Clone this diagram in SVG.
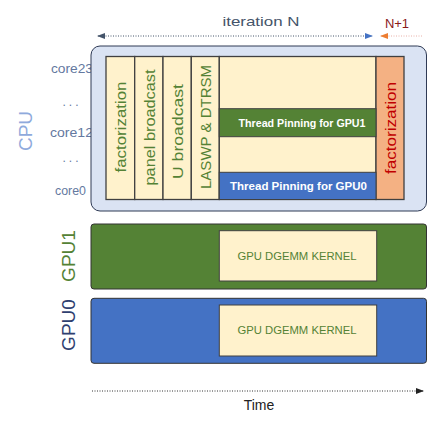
<svg xmlns="http://www.w3.org/2000/svg" width="440" height="428" viewBox="0 0 440 428">
<style>
.lab{font-family:"Liberation Sans",Arial,sans-serif}
.core{font-family:"Liberation Sans",Arial,sans-serif;font-size:12px;fill:#6479a0}
.col{font-family:"Liberation Sans",Arial,sans-serif;font-size:15px;fill:#548235;text-anchor:middle;dominant-baseline:central}
.pin{font-family:"Liberation Sans",Arial,sans-serif;font-size:11.5px;font-weight:bold;fill:#ffffff;text-anchor:middle;dominant-baseline:central}
.kern{font-family:"Liberation Sans",Arial,sans-serif;font-size:11px;fill:#548235;text-anchor:middle;dominant-baseline:central}
.big{font-family:"Liberation Sans",Arial,sans-serif;font-size:19px;text-anchor:middle;dominant-baseline:central}
.cell{fill:#fff2cc;stroke:#404040;stroke-width:1.3}
.dot{fill:none;stroke-width:1;stroke-dasharray:1 1.5}
</style>
<defs>
<marker id="ah" markerWidth="8" markerHeight="6" refX="7" refY="3" orient="auto-start-reverse" markerUnits="userSpaceOnUse">
<path d="M0,0 L8,3 L0,6 Z" fill="#44546a"/>
</marker>
<marker id="ahb" markerWidth="8" markerHeight="6" refX="7" refY="3" orient="auto" markerUnits="userSpaceOnUse">
<path d="M0,0 L8,3 L0,6 Z" fill="#4472c4"/>
</marker>
<marker id="aho" markerWidth="8" markerHeight="6" refX="7" refY="3" orient="auto-start-reverse" markerUnits="userSpaceOnUse">
<path d="M0,0 L8,3 L0,6 Z" fill="#ed7d31"/>
</marker>
<marker id="ahk" markerWidth="8" markerHeight="6" refX="7" refY="3" orient="auto" markerUnits="userSpaceOnUse">
<path d="M0,0 L8,3 L0,6 Z" fill="#222"/>
</marker>
</defs>

<g id="labels">
<text class="lab" x="261" y="26" font-size="13" fill="#44546a" text-anchor="middle" textLength="77" lengthAdjust="spacingAndGlyphs">iteration N</text>
<text class="lab" x="397" y="28" font-size="13" fill="#8b1a1a" text-anchor="middle">N+1</text>
<text class="big" transform="translate(25,131) rotate(-90)" fill="#8faadc">CPU</text>
<text class="big" transform="translate(68,256) rotate(-90)" fill="#548235">GPU1</text>
<text class="big" transform="translate(68,325) rotate(-90)" fill="#2f4070">GPU0</text>
<text class="core" x="93" y="72.5" text-anchor="end" textLength="42" lengthAdjust="spacingAndGlyphs">core23</text>
<text class="core" x="72" y="106" text-anchor="middle" letter-spacing="3">...</text>
<text class="core" x="93" y="137" text-anchor="end" textLength="43" lengthAdjust="spacingAndGlyphs">core12</text>
<text class="core" x="72" y="162" text-anchor="middle" letter-spacing="3">...</text>
<text class="core" x="86" y="195" text-anchor="end" textLength="31" lengthAdjust="spacingAndGlyphs">core0</text>
<text class="lab" x="259" y="410" font-size="14" fill="#222" text-anchor="middle">Time</text>
</g>

<g id="cpu">
<rect x="91" y="46" width="335.5" height="165" rx="9" fill="#dae3f3" stroke="#2e3a55" stroke-width="1"/>
<rect class="cell" x="106" y="56.5" width="28.7" height="143"/>
<rect class="cell" x="134.7" y="56.5" width="28.3" height="143"/>
<rect class="cell" x="163" y="56.5" width="28.3" height="143"/>
<rect class="cell" x="191.3" y="56.5" width="28" height="143"/>
<rect class="cell" x="219.3" y="56.5" width="156.7" height="143"/>
<rect x="376" y="56.5" width="28" height="143" fill="#f4b183" stroke="#404040" stroke-width="1.3"/>
<text class="col" transform="translate(120,127) rotate(-90)" textLength="91" lengthAdjust="spacingAndGlyphs">factorization</text>
<text class="col" transform="translate(149,127.5) rotate(-90)" textLength="116" lengthAdjust="spacingAndGlyphs">panel broadcast</text>
<text class="col" transform="translate(177,131.5) rotate(-90)" textLength="95" lengthAdjust="spacingAndGlyphs">U broadcast</text>
<text class="col" transform="translate(205,127) rotate(-90)" textLength="124" lengthAdjust="spacingAndGlyphs">LASWP &amp; DTRSM</text>
<text class="col" transform="translate(390,128) rotate(-90)" style="fill:#c00000" textLength="92" lengthAdjust="spacingAndGlyphs">factorization</text>
</g>

<g id="pin1">
<rect x="219.3" y="108.7" width="156.7" height="28" fill="#548235" stroke="#404040" stroke-width="1"/>
<text class="pin" x="302" y="122.7" textLength="127" lengthAdjust="spacingAndGlyphs">Thread Pinning for GPU1</text>
</g>
<g id="pin0">
<rect x="219.3" y="172.3" width="156.7" height="27.2" fill="#4472c4" stroke="#404040" stroke-width="1"/>
<text class="pin" x="298.5" y="186" textLength="137" lengthAdjust="spacingAndGlyphs">Thread Pinning for GPU0</text>
</g>

<g id="gpu1">
<rect x="91" y="224" width="335.5" height="65" rx="3" fill="#548235" stroke="#333" stroke-width="1"/>
<rect x="219.3" y="230.7" width="157.4" height="50.3" fill="#fff2cc" stroke="#404040" stroke-width="1"/>
<text class="kern" x="297" y="256" textLength="119" lengthAdjust="spacingAndGlyphs">GPU DGEMM KERNEL</text>
</g>
<g id="gpu0">
<rect x="91" y="298.3" width="335.5" height="65" rx="3" fill="#4472c4" stroke="#333" stroke-width="1"/>
<rect x="219.3" y="305" width="157.4" height="51" fill="#fff2cc" stroke="#404040" stroke-width="1"/>
<text class="kern" x="297" y="330" textLength="119" lengthAdjust="spacingAndGlyphs">GPU DGEMM KERNEL</text>
</g>

<g id="connectors">
<line class="dot" x1="98" y1="36" x2="372" y2="36" stroke="#44546a" marker-start="url(#ah)" marker-end="url(#ahb)"/>
<line class="dot" x1="381" y1="36" x2="422" y2="36" stroke="#e8b0a8" marker-start="url(#aho)"/>
<line class="dot" x1="92" y1="391" x2="423" y2="391" stroke="#333" marker-end="url(#ahk)"/>
</g>
</svg>
